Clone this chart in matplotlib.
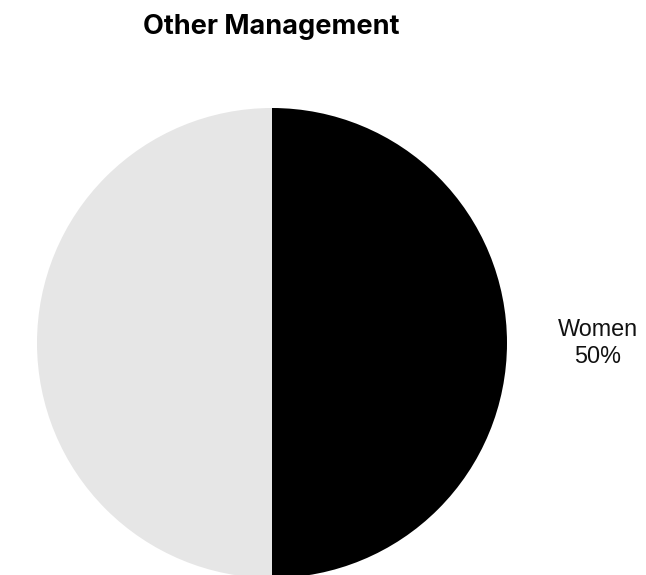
import matplotlib.pyplot as plt

# Gender split, Other Management
labels = ["Women", "Men"]
shares = [50, 50]
colors = ["#000000", "#e6e6e6"]
# only the women's share gets a label
shown = [True, False]

fig = plt.figure(figsize=(6.46, 5.75), dpi=100)
ax = fig.add_axes([0, 0, 1, 1])

wedges, texts = ax.pie(
    shares,
    labels=[f"{l}\n{s}%" if keep else "" for l, s, keep in zip(labels, shares, shown)],
    colors=colors,
    startangle=90,
    counterclock=False,
    center=(272, 232),
    radius=235,
    labeldistance=1.385,
    wedgeprops=dict(edgecolor="none", linewidth=0),
    textprops=dict(fontsize=16.8, family="Liberation Sans", color="#111111"),
    frame=True,
)
for t in texts:
    t.set_ha("center")
    t.set_va("center")
    t.set_linespacing(1.2)

ax.set_xlim(0, 646)
ax.set_ylim(0, 575)
ax.set_aspect("equal")
ax.axis("off")

fig.text(271 / 646, 1 - 27 / 575, "Other Management", ha="center", va="center",
         fontsize=19.5, fontweight="bold", family="Inter", color="#000000")

fig.savefig("out.png", dpi=100)
